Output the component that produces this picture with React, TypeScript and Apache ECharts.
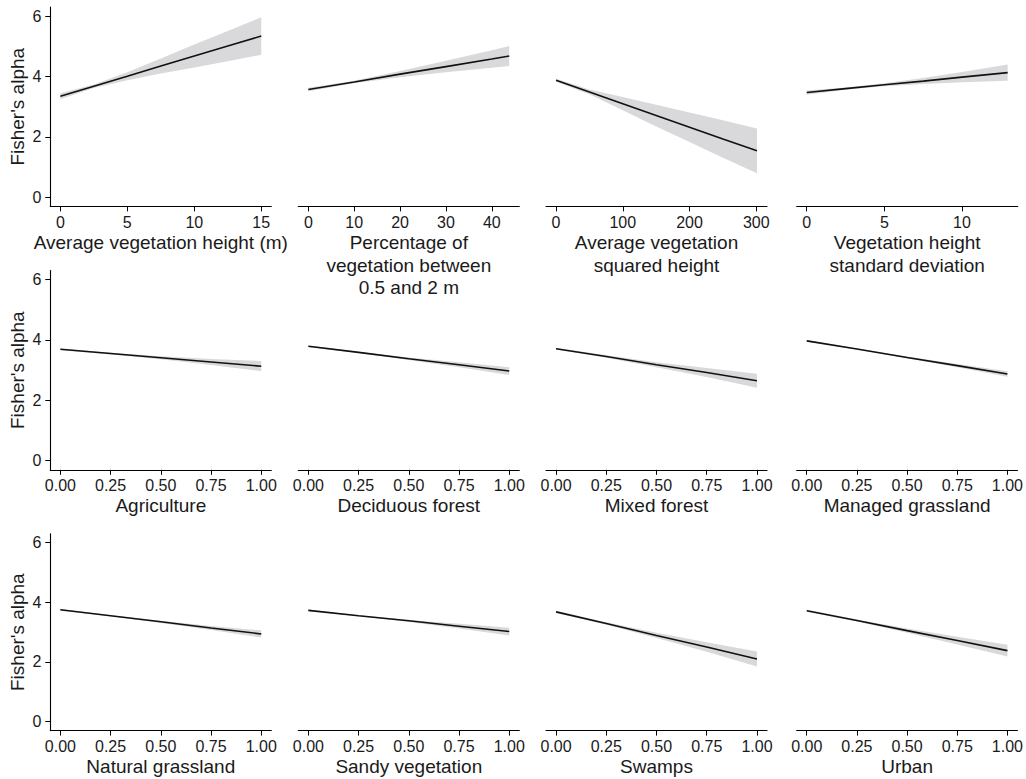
import React, { useEffect, useRef } from "react";
import * as echarts from "echarts";

// ---- shared axis values ----
const yTicks = [0, 2, 4, 6];
const yAxisTitle = "Fisher's alpha";

// ---- row 1 ----
const heightX = [0, 2.5, 5, 7.5, 10, 12.5, 15];
const heightFit = [3.35, 3.68, 4.01, 4.35, 4.68, 5.01, 5.34];
const heightLo = [3.25, 3.62, 3.88, 4.1, 4.3, 4.51, 4.72];
const heightHi = [3.45, 3.74, 4.14, 4.6, 5.06, 5.51, 5.96];
const heightTicks = [0, 5, 10, 15];

const pctX = [0, 10, 20, 30, 40, 43.8];
const pctFit = [3.57, 3.82, 4.08, 4.33, 4.58, 4.68];
const pctLo = [3.51, 3.78, 3.98, 4.14, 4.29, 4.35];
const pctHi = [3.63, 3.86, 4.18, 4.52, 4.87, 5.01];
const pctTicks = [0, 10, 20, 30, 40];

const sqX = [0, 50, 100, 150, 200, 250, 301];
const sqFit = [3.88, 3.49, 3.1, 2.71, 2.32, 1.93, 1.54];
const sqLo = [3.83, 3.41, 2.88, 2.35, 1.83, 1.31, 0.8];
const sqHi = [3.93, 3.57, 3.32, 3.07, 2.81, 2.55, 2.28];
const sqTicks = [0, 100, 200, 300];

const sdX = [0, 2.5, 5, 7.5, 10, 12.94];
const sdFit = [3.47, 3.6, 3.73, 3.85, 3.98, 4.13];
const sdLo = [3.4, 3.56, 3.68, 3.75, 3.81, 3.86];
const sdHi = [3.54, 3.64, 3.78, 3.95, 4.15, 4.4];
const sdTicks = [0, 5, 10];

// ---- rows 2 and 3 (land cover proportions) ----
const coverX = [0, 0.25, 0.5, 0.75, 1];
const coverTicks = [0, 0.25, 0.5, 0.75, 1];

const agriFit = [3.69, 3.55, 3.41, 3.27, 3.13];
const agriLo = [3.66, 3.52, 3.36, 3.17, 2.97];
const agriHi = [3.72, 3.58, 3.46, 3.37, 3.3];

const decidFit = [3.79, 3.59, 3.38, 3.18, 2.97];
const decidLo = [3.76, 3.57, 3.34, 3.1, 2.84];
const decidHi = [3.82, 3.61, 3.42, 3.26, 3.1];

const mixedFit = [3.71, 3.45, 3.18, 2.92, 2.65];
const mixedLo = [3.68, 3.41, 3.1, 2.77, 2.42];
const mixedHi = [3.74, 3.49, 3.26, 3.07, 2.88];

const managedFit = [3.97, 3.7, 3.42, 3.15, 2.87];
const managedLo = [3.94, 3.68, 3.39, 3.1, 2.78];
const managedHi = [4.0, 3.72, 3.45, 3.2, 2.96];

const naturalFit = [3.75, 3.55, 3.35, 3.14, 2.94];
const naturalLo = [3.72, 3.53, 3.31, 3.07, 2.82];
const naturalHi = [3.78, 3.57, 3.38, 3.21, 3.06];

const sandyFit = [3.73, 3.55, 3.38, 3.2, 3.02];
const sandyLo = [3.7, 3.53, 3.34, 3.12, 2.89];
const sandyHi = [3.76, 3.57, 3.41, 3.28, 3.15];

const swampFit = [3.68, 3.29, 2.89, 2.5, 2.1];
const swampLo = [3.64, 3.25, 2.8, 2.34, 1.85];
const swampHi = [3.72, 3.33, 2.98, 2.66, 2.35];

const urbanFit = [3.72, 3.39, 3.05, 2.72, 2.38];
const urbanLo = [3.68, 3.36, 2.98, 2.59, 2.18];
const urbanHi = [3.76, 3.42, 3.12, 2.85, 2.58];

const panels = [
  { title: "Average vegetation height (m)", x: heightX, fit: heightFit, lo: heightLo, hi: heightHi, ticks: heightTicks, digits: 0 },
  { title: "Percentage of\nvegetation between\n0.5 and 2 m", x: pctX, fit: pctFit, lo: pctLo, hi: pctHi, ticks: pctTicks, digits: 0 },
  { title: "Average vegetation\nsquared height", x: sqX, fit: sqFit, lo: sqLo, hi: sqHi, ticks: sqTicks, digits: 0 },
  { title: "Vegetation height\nstandard deviation", x: sdX, fit: sdFit, lo: sdLo, hi: sdHi, ticks: sdTicks, digits: 0 },
  { title: "Agriculture", x: coverX, fit: agriFit, lo: agriLo, hi: agriHi, ticks: coverTicks, digits: 2 },
  { title: "Deciduous forest", x: coverX, fit: decidFit, lo: decidLo, hi: decidHi, ticks: coverTicks, digits: 2 },
  { title: "Mixed forest", x: coverX, fit: mixedFit, lo: mixedLo, hi: mixedHi, ticks: coverTicks, digits: 2 },
  { title: "Managed grassland", x: coverX, fit: managedFit, lo: managedLo, hi: managedHi, ticks: coverTicks, digits: 2 },
  { title: "Natural grassland", x: coverX, fit: naturalFit, lo: naturalLo, hi: naturalHi, ticks: coverTicks, digits: 2 },
  { title: "Sandy vegetation", x: coverX, fit: sandyFit, lo: sandyLo, hi: sandyHi, ticks: coverTicks, digits: 2 },
  { title: "Swamps", x: coverX, fit: swampFit, lo: swampLo, hi: swampHi, ticks: coverTicks, digits: 2 },
  { title: "Urban", x: coverX, fit: urbanFit, lo: urbanLo, hi: urbanHi, ticks: coverTicks, digits: 2 },
];

// ---- layout ----
const colLeft = [50.3, 298.3, 546, 796.7];
const plotW = 221;
const rowTop = [7.1, 270.5, 533.7];
const plotH = 199.3;
const nameGaps = [21, 24, 24];
const yMin = -0.3;
const yMax = 6.3;
const FONT = "'Liberation Sans', Arial, Helvetica, sans-serif";
const TEXT = "#1a1a1a";

function buildOption() {
  const grid: any[] = [];
  const xAxis: any[] = [];
  const yAxis: any[] = [];
  const series: any[] = [];

  panels.forEach((p, i) => {
    const row = Math.floor(i / 4);
    const col = i % 4;
    grid.push({ left: colLeft[col], top: rowTop[row], width: plotW, height: plotH, containLabel: false });
    const xlo = Math.min(...p.x);
    const xhi = Math.max(...p.x);
    const pad = (xhi - xlo) * 0.05;
    xAxis.push({
      type: "value",
      gridIndex: i,
      min: xlo - pad,
      max: xhi + pad,
      name: p.title,
      nameLocation: "middle",
      nameGap: nameGaps[row],
      nameTextStyle: { fontFamily: FONT, fontSize: 19, color: TEXT, lineHeight: 22.5 },
      axisLine: { show: true, onZero: false, lineStyle: { color: "#000", width: 1.1 } },
      axisTick: { show: true, length: 5, customValues: p.ticks, lineStyle: { color: "#000", width: 1 } },
      axisLabel: {
        show: true,
        customValues: p.ticks,
        margin: 8,
        fontFamily: FONT,
        fontSize: 16,
        color: TEXT,
        formatter: (v: number) => v.toFixed(p.digits),
      },
      splitLine: { show: false },
    });
    const showY = col === 0;
    yAxis.push({
      type: "value",
      gridIndex: i,
      min: yMin,
      max: yMax,
      show: showY,
      name: showY ? yAxisTitle : "",
      nameLocation: "middle",
      nameRotate: 90,
      nameGap: 23,
      nameTextStyle: { fontFamily: FONT, fontSize: 19, color: TEXT },
      axisLine: { show: showY, onZero: false, lineStyle: { color: "#000", width: 1.1 } },
      axisTick: { show: showY, length: 5, customValues: yTicks, lineStyle: { color: "#000", width: 1 } },
      axisLabel: {
        show: showY,
        customValues: yTicks,
        margin: 9,
        fontFamily: FONT,
        fontSize: 16,
        color: TEXT,
      },
      splitLine: { show: false },
    });

    // confidence band as a polygon through the axis scales
    series.push({
      type: "custom",
      xAxisIndex: i,
      yAxisIndex: i,
      silent: true,
      clip: true,
      z: 1,
      data: p.x.map((x, k) => [x, p.lo[k], p.hi[k]]),
      encode: { x: 0, y: [1, 2] },
      renderItem: (params: any, api: any) => {
        if (params.dataIndex !== 0) return { type: "group", children: [] };
        const upper = p.x.map((x, k) => api.coord([x, p.hi[k]]));
        const lower = p.x.map((x, k) => api.coord([x, p.lo[k]])).reverse();
        return {
          type: "polygon",
          shape: { points: upper.concat(lower) },
          style: { fill: "#d9d9db", stroke: "none" },
        };
      },
    });
    series.push({
      type: "line",
      xAxisIndex: i,
      yAxisIndex: i,
      symbol: "none",
      silent: true,
      lineStyle: { color: "#111", width: 1.6 },
      data: p.x.map((x, k) => [x, p.fit[k]]),
      z: 3,
    });
  });

  return {
    animation: false,
    backgroundColor: "#ffffff",
    textStyle: { fontFamily: FONT },
    grid,
    xAxis,
    yAxis,
    series,
  };
}

export default function App() {
  const ref = useRef<HTMLDivElement>(null);
  useEffect(() => {
    document.body.style.margin = "0";
    if (!ref.current) return;
    const chart = echarts.init(ref.current, undefined, { renderer: "svg" });
    chart.setOption(buildOption());
    return () => chart.dispose();
  }, []);
  return (
    <div
      ref={ref}
      style={{ position: "absolute", left: 0, top: 0, width: 1026, height: 779, background: "#fff" }}
    />
  );
}
